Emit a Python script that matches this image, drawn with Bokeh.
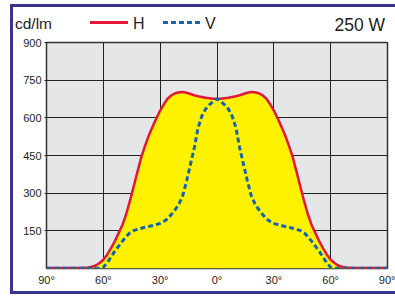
from bokeh.plotting import figure
from bokeh.models import FixedTicker, Div
from bokeh.layouts import column
from bokeh.embed import file_html
from bokeh.resources import INLINE

# Data (luminous intensity, cd/klm vs angle)
angles_h = [-90, -80, -72, -68, -66, -64, -62, -60, -58, -56, -54, -52, -50, -48, -46, -44, -42, -40,
            -38, -36, -34, -32, -30, -28, -26, -24, -22, -20, -18, -16, -14, -12, -10, -8, -6, -4, -2,
            0, 2, 4, 6, 8, 10, 12, 14, 16, 18, 20, 22, 24, 26, 28, 30, 32, 34, 36, 38, 40, 42, 44, 46,
            48, 50, 52, 54, 56, 58, 60, 62, 64, 66, 68, 72, 80, 90]
values_h = [2, 2, 2, 4, 7, 12, 22, 35, 55, 80, 108, 140, 172, 215, 268, 326, 385, 443,
            488, 530, 565, 598, 629, 655, 677, 690, 698, 702, 703, 700, 695, 690, 686, 683, 680, 678, 676,
            676, 676, 678, 680, 683, 686, 690, 695, 700, 703, 702, 698, 690, 677, 655, 629, 598, 565, 530, 488, 443, 385, 326, 268,
            215, 172, 140, 108, 80, 55, 35, 22, 12, 7, 4, 2, 2, 2]

angles_v = [-90, -70, -64, -62, -60, -58, -56, -54, -52, -50, -48, -46, -44, -42, -40, -38, -35, -32,
            -30, -28, -26, -24, -22, -20, -18, -16, -14, -12, -10, -8, -6, -4, -2,
            0, 2, 4, 6, 8, 10, 12, 14, 16, 18, 20, 22, 24, 26, 28, 30, 32, 35, 38, 40, 42, 44, 46,
            48, 50, 52, 54, 56, 58, 60, 62, 64, 70, 90]
values_v = [1, 1, 1, 1, 5, 22, 45, 68, 88, 108, 127, 142, 151, 156, 160, 164, 169, 175,
            180, 188, 198, 216, 235, 258, 292, 350, 415, 480, 560, 607, 635, 652, 666,
            676, 666, 652, 635, 607, 560, 480, 415, 350, 292, 258, 235, 216, 198, 188, 180, 175, 169, 164, 160, 156, 151, 142,
            127, 108, 88, 68, 45, 22, 5, 1, 1, 1, 1]

x_ticks = [-90, -60, -30, 0, 30, 60, 90]
x_tick_labels = ["90°", "60°", "30°", "0°", "30°", "60°", "90°"]
y_ticks = [150, 300, 450, 600, 750, 900]

unit_label = "cd/lm"
series_names = ["H", "V"]
lamp_label = "250 W"

RED = "#e3173a"
BLUE = "#1565b0"
YELLOW = "#fff200"
FRAME = "#3a3391"
TEXT = "#222222"
FONT = "Liberation Sans"

# ---------------- main chart ----------------
p = figure(width=382, height=256, x_range=(-90, 90), y_range=(0, 900),
           output_backend="svg", toolbar_location=None,
           min_border_left=33, min_border_right=8, min_border_top=7, min_border_bottom=23)

p.background_fill_color = "#e5e6e8"
p.border_fill_color = "white"
p.outline_line_color = "#333333"
p.outline_line_width = 1.5

p.xaxis.ticker = FixedTicker(ticks=x_ticks)
p.xaxis.major_label_overrides = {t: l for t, l in zip(x_ticks, x_tick_labels)}
p.yaxis.ticker = FixedTicker(ticks=y_ticks)
for ax in (p.xaxis, p.yaxis):
    ax.axis_line_color = None
    ax.major_label_text_font = FONT
    ax.major_label_text_font_size = "11px"
    ax.major_label_text_color = TEXT
    ax.minor_tick_line_color = None
    ax.major_tick_in = 0
p.xaxis.major_tick_out = 0
p.xaxis.major_label_standoff = 5
p.yaxis.major_tick_out = 2
p.yaxis.major_tick_line_color = TEXT
p.yaxis.major_label_standoff = 3

p.xgrid.ticker = FixedTicker(ticks=[-60, -30, 0, 30, 60])
p.ygrid.ticker = FixedTicker(ticks=[150, 300, 450, 600, 750])
for g in (p.xgrid, p.ygrid):
    g.grid_line_color = "#222222"
    g.grid_line_width = 1

p.varea(x=angles_h, y1=0, y2=values_h, fill_color=YELLOW)
p.line(angles_h, values_h, line_color=RED, line_width=2.5)
p.line(angles_v, values_v, line_color=BLUE, line_width=3, line_dash="5 3")

# ---------------- header (unit, legend, lamp power) as HTML ----------------
base = f"position:absolute;font-family:'{FONT}';color:{TEXT};line-height:1;white-space:nowrap;margin:0;padding:0;"
header_html = (
    '<div style="position:relative;width:382px;height:28px;margin:0;padding:0;">'
    f'<span style="{base}left:2px;top:8.6px;font-size:15.5px;">{unit_label}</span>'
    f'<span style="position:absolute;left:77px;top:14px;width:38px;height:2.5px;background:{RED};"></span>'
    f'<span style="{base}left:120px;top:8.8px;font-size:16px;">{series_names[0]}</span>'
    f'<span style="position:absolute;left:150px;top:14px;width:37px;height:3px;'
    f'background:repeating-linear-gradient(to right,{BLUE} 0px,{BLUE} 5px,transparent 5px,transparent 8px);"></span>'
    f'<span style="{base}left:192px;top:8.8px;font-size:16px;">{series_names[1]}</span>'
    f'<span style="{base}right:10px;top:9.7px;font-size:17.5px;">{lamp_label}</span>'
    '</div>'
)
header = Div(text=header_html, width=382, height=28, styles={"margin": "0", "padding": "0"})

layout = column(header, p, spacing=0,
                styles={"position": "absolute", "left": "10px", "top": "4px",
                        "border-left": f"3px solid {FRAME}",
                        "border-top": f"3px solid {FRAME}",
                        "border-bottom": f"3px solid {FRAME}",
                        "background": "white"})

open("out.html", "w").write(file_html(layout, INLINE))
